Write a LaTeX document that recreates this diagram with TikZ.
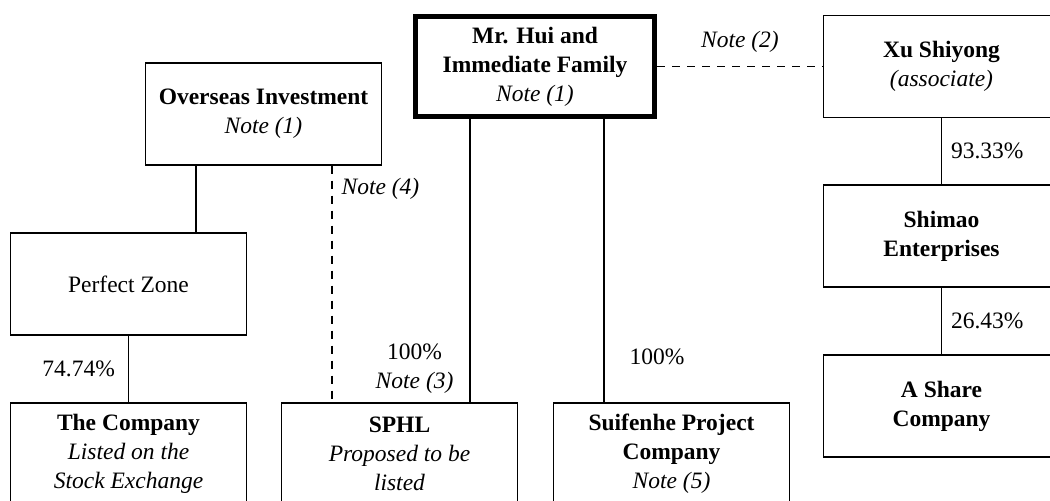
\documentclass[tikz,border=0pt]{standalone}
\usepackage{fontspec}
\setmainfont{Liberation Serif}
\begin{document}
\begin{tikzpicture}[x=0.5pt,y=-0.5pt,
    box/.style={draw,line width=0.6pt,minimum width=118pt,minimum height=51pt,align=center,inner sep=2pt,font=\fontsize{11.75}{14.5}\selectfont},
    owner/.style={box,line width=2.5pt,minimum width=119.5pt,minimum height=50pt},
    link/.style={line width=0.6pt},
    tie/.style={link,dash pattern=on 4pt off 3.5pt},
    pct/.style={font=\fontsize{11.75}{14.5}\selectfont,inner sep=4.5pt,align=center}]
    \useasboundingbox (0,0) rectangle (1050,500);
    % holders
    \node[box] (oi) at (263.5,114) {\textbf{Overseas Investment}\\\textit{Note (1)}};
    \node[owner] (hui) at (535,66.5) {\textbf{Mr. Hui and}\\\textbf{Immediate Family}\\\textit{Note (1)}};
    \node[box] (xu) at (941.5,66.5) {\textbf{Xu Shiyong}\\\textit{(associate)}};
    \node[box] (sm) at (941.5,236) {\textbf{Shimao}\\\textbf{Enterprises}};
    \node[box] (as) at (941.5,406) {\textbf{A Share}\\\textbf{Company}};
    \node[box] (pz) at (128.5,284) {Perfect Zone};
    % companies
    \node[box] (co) at (128.5,454) {\textbf{The Company}\\\textit{Listed on the}\\\textit{Stock Exchange}};
    \node[box] (sphl) at (399.5,454) {\textbf{SPHL}\\\textit{Proposed to be}\\\textit{listed}};
    \node[box] (sf) at (671.5,454) {\textbf{Suifenhe Project}\\\textbf{Company}\\\textit{Note (5)}};
    % links
    \coordinate (pzt) at ([xshift=33.75pt]pz.north);
    \coordinate (sp4) at ([xshift=-33.75pt]sphl.north);
    \coordinate (sp3) at ([xshift=35.25pt]sphl.north);
    \coordinate (sf5) at ([xshift=-33.75pt]sf.north);
    \draw[link] (pzt |- oi.south)--(pzt);
    \draw[link] (pz)--node[pct,left,xshift=-2pt]{74.74\%}(co);
    \draw[tie] (sp4 |- oi.south)--node[pct,right,pos=0.1]{\textit{Note (4)}}(sp4);
    \draw[link] (sp3 |- hui.south)--node[pct,left,pos=0.88,xshift=-3.5pt]{100\%\\\textit{Note (3)}}(sp3);
    \draw[link] (sf5 |- hui.south)--node[pct,right,pos=0.84,xshift=8pt]{100\%}(sf5);
    \draw[tie] (hui)--node[pct,above,yshift=2pt]{\textit{Note (2)}}(xu);
    \draw[link] (xu)--node[pct,right]{93.33\%}(sm);
    \draw[link] (sm)--node[pct,right]{26.43\%}(as);
\end{tikzpicture}
\end{document}
